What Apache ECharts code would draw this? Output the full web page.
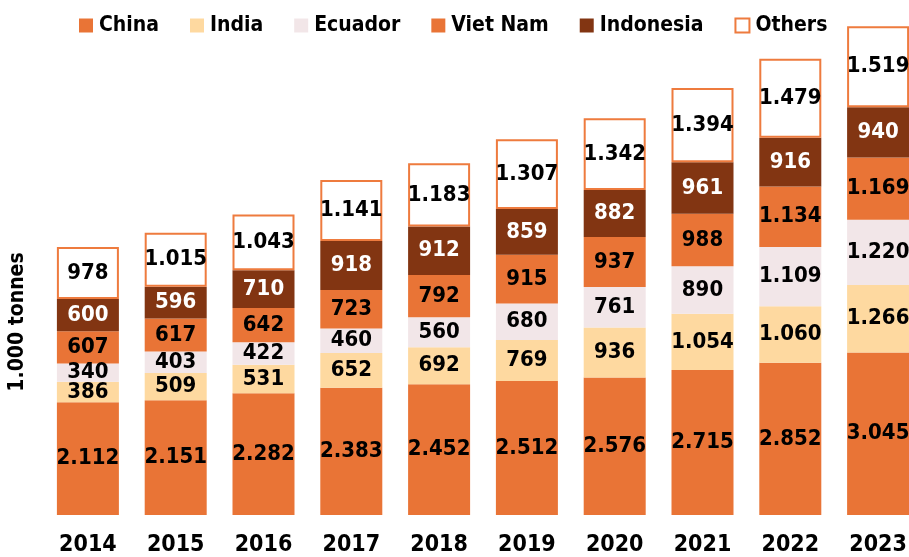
<!DOCTYPE html>
<html>
<head>
<meta charset="utf-8">
<script src="https://cdn.jsdelivr.net/npm/echarts@6/dist/echarts.min.js"></script>
<style>
html, body { margin: 0; padding: 0; background: #fff; }
#main { width: 909px; height: 557px; }
</style>
</head>
<body>
<div id="main"></div>
<script>
// data, 1.000 tonnes
var years = ['2014', '2015', '2016', '2017', '2018', '2019', '2020', '2021', '2022', '2023'];
var china = [2112, 2151, 2282, 2383, 2452, 2512, 2576, 2715, 2852, 3045];
var india = [386, 509, 531, 652, 692, 769, 936, 1054, 1060, 1266];
var ecuador = [340, 403, 422, 460, 560, 680, 761, 890, 1109, 1220];
var vietNam = [607, 617, 642, 723, 792, 915, 937, 988, 1134, 1169];
var indonesia = [600, 596, 710, 918, 912, 859, 882, 961, 916, 940];
var others = [978, 1015, 1043, 1141, 1183, 1307, 1342, 1394, 1479, 1519];

// 2.112 style numbers
function fmt(v) {
	return String(v).replace(/\B(?=(\d{3})+(?!\d))/g, '.');
}

function makeSeries(name, data, color, textColor, border) {
	return {
		name : name,
		type : 'bar',
		stack : 'total',
		barWidth : 62,
		data : data,
		itemStyle : {
			color : color,
			borderColor : border || color,
			borderWidth : border ? 2 : 0
		},
		label : {
			show : true,
			position : 'inside',
			color : textColor,
			fontFamily : 'DejaVu Sans Condensed',
			fontWeight : 'bold',
			fontSize : 22,
			formatter : function(p) {
				return fmt(p.value);
			}
		}
	};
}

var chart = echarts.init(document.getElementById('main'));
chart.setOption({
	animation : false,
	legend : {
		top : 10,
		left : 74,
		itemWidth : 14,
		itemHeight : 14,
		itemGap : 31,
		icon : 'rect',
		textStyle : {
			fontFamily : 'DejaVu Sans Condensed',
			fontWeight : 'bold',
			fontSize : 21,
			color : '#000',
			padding : [ 0, 0, 0, 1 ]
		},
		data : [ 'China', 'India', 'Ecuador', 'Viet Nam', 'Indonesia', 'Others' ]
	},
	grid : {
		left : 44,
		width : 878,
		top : 8,
		bottom : 42,
		outerBoundsMode : 'none'
	},
	xAxis : {
		type : 'category',
		data : years,
		axisLine : { show : false },
		axisTick : { show : false },
		axisLabel : {
			margin : 19,
			color : '#000',
			fontFamily : 'DejaVu Sans Condensed',
			fontWeight : 'bold',
			fontSize : 23
		}
	},
	yAxis : {
		type : 'value',
		min : 0,
		max : 9500,
		show : false
	},
	graphic : [ {
		type : 'text',
		x : 18,
		y : 322,
		rotation : Math.PI / 2,
		style : {
			text : '1.000 tonnes',
			fill : '#000',
			font : 'bold 21px "DejaVu Sans Condensed"',
			textAlign : 'center',
			textVerticalAlign : 'middle'
		}
	} ],
	series : [
		makeSeries('China', china, '#E97436', '#000'),
		makeSeries('India', india, '#FED9A0', '#000'),
		makeSeries('Ecuador', ecuador, '#F2E6E8', '#000'),
		makeSeries('Viet Nam', vietNam, '#E97436', '#000'),
		makeSeries('Indonesia', indonesia, '#823512', '#fff'),
		makeSeries('Others', others, '#fff', '#000', '#EE7B3E')
	]
});
</script>
</body>
</html>
